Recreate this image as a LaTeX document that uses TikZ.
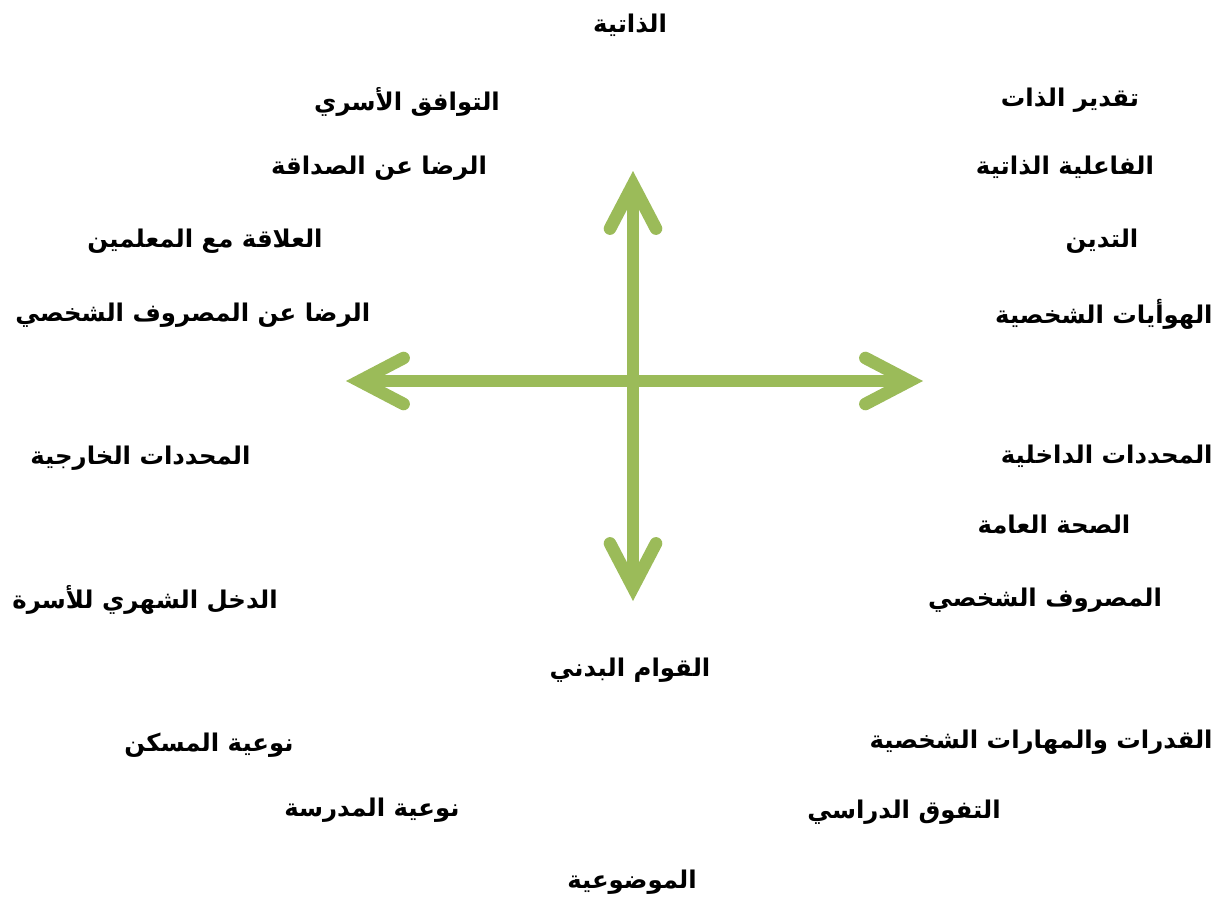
\documentclass[tikz,border=0pt]{standalone}
\usepackage{fontspec}
\usepackage{xcolor}
\usepackage{tikz}
\usetikzlibrary{arrows.meta}
\newfontfamily\arabicfont[Script=Arabic]{DejaVu Sans}
\TeXXeTstate=1
\definecolor{axisgreen}{RGB}{155,187,89}
\newcommand{\artext}[1]{\arabicfont\bfseries\beginR #1\endR}

\begin{document}
\begin{tikzpicture}[x=0.5pt,y=-0.5pt]
        \tikzstyle{factor}=[font=\fontsize{12.2}{15}\selectfont,inner sep=0pt]
        \tikzstyle{axis}=[draw=axisgreen,line width=6.3pt,
            {Straight Barb[length=22pt,width=23pt,line cap=round,line join=miter]}-{Straight Barb[length=22pt,width=23pt,line cap=round,line join=miter]}]
        \useasboundingbox (0,0) rectangle (1221,906);
        \coordinate (N) at (633,171);
        \coordinate (S) at (633,601);
        \coordinate (W) at (346,381);
        \coordinate (E) at (923,381);
        \draw[axis] (N) -- (S);
        \draw[axis] (W) -- (E);
        \node[factor] (subj) at (630,25) {\artext{الذاتية}};
        \node[factor] (obj) at (632,882) {\artext{الموضوعية}};
        \node[factor] (family) at (407,102) {\artext{التوافق الأسري}};
        \node[factor] (friends) at (379,168) {\artext{الرضا عن الصداقة}};
        \node[factor] (teachers) at (205,241) {\artext{العلاقة مع المعلمين}};
        \node[factor,anchor=west] (allowsat) at (15,315) {\artext{الرضا عن المصروف الشخصي}};
        \node[factor] (esteem) at (1070,100) {\artext{تقدير الذات}};
        \node[factor] (efficacy) at (1065,167) {\artext{الفاعلية الذاتية}};
        \node[factor] (religion) at (1102,241) {\artext{التدين}};
        \node[factor,anchor=east] (hobbies) at (1213,314) {\artext{الهوأيات الشخصية}};
        \node[factor,anchor=west] (external) at (30,458) {\artext{المحددات الخارجية}};
        \node[factor,anchor=east] (internal) at (1213,456) {\artext{المحددات الداخلية}};
        \node[factor] (health) at (1054,525) {\artext{الصحة العامة}};
        \node[factor] (allowance) at (1045,600) {\artext{المصروف الشخصي}};
        \node[factor,anchor=west] (income) at (12,600) {\artext{الدخل الشهري للأسرة}};
        \node[factor] (body) at (630,670) {\artext{القوام البدني}};
        \node[factor] (housing) at (209,745) {\artext{نوعية المسكن}};
        \node[factor,anchor=east] (skills) at (1213,742) {\artext{القدرات والمهارات الشخصية}};
        \node[factor] (school) at (372,810) {\artext{نوعية المدرسة}};
        \node[factor] (grades) at (904,812) {\artext{التفوق الدراسي}};
    \end{tikzpicture}
\end{document}
